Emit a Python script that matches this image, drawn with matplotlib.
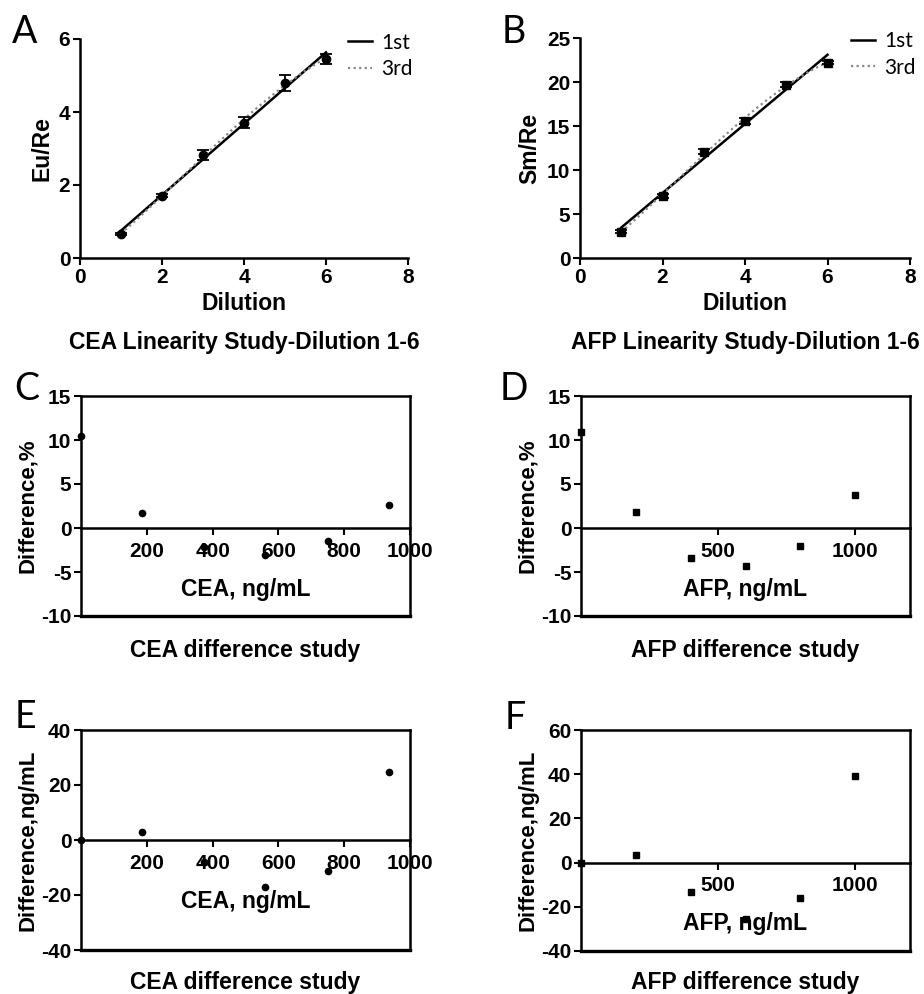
import matplotlib
matplotlib.use('Agg')
import matplotlib.pyplot as plt
import numpy as np

plt.rcParams['font.family'] = ['Liberation Sans', 'DejaVu Sans']

# linearity study, dilution 1-6
dilution = [1, 2, 3, 4, 5, 6]
cea_ratio = [0.66, 1.70, 2.82, 3.71, 4.80, 5.46]
cea_err = [0.03, 0.04, 0.14, 0.16, 0.22, 0.14]
afp_ratio = [3.0, 7.05, 12.1, 15.6, 19.7, 22.2]
afp_err = [0.15, 0.25, 0.25, 0.35, 0.25, 0.2]

# difference studies
conc = [0, 186, 374, 559, 752, 936]
cea_diff_pct = [10.4, 1.65, -2.2, -3.1, -1.5, 2.6]
cea_diff_abs = [0.0, 3.0, -8.1, -17.0, -11.3, 24.8]
afp_conc = [0, 200, 400, 600, 800, 1000]
afp_diff_pct = [10.9, 1.8, -3.4, -4.35, -2.1, 3.8]
afp_diff_abs = [0.0, 3.5, -13.3, -25.5, -16.2, 39.0]

W, H = 924, 994
fig = plt.figure(figsize=(W / 100, H / 100), dpi=100)


def box(l, t, r, b):
    return [l / W, 1 - b / H, (r - l) / W, (b - t) / H]


def style_ticks(ax, pad=2):
    ax.tick_params(direction='out', length=5, width=1.5, labelsize=15, pad=pad)
    for lbl in ax.get_xticklabels() + ax.get_yticklabels():
        lbl.set_fontweight('bold')


def linearity(rect, x, y, err, marker, ylabel, yticks, title, letter, lx):
    ax = fig.add_axes(box(*rect))
    xs = np.linspace(1, 6, 100)
    p1 = np.polyfit(x, y, 1)
    p3 = np.polyfit(x, y, 3)
    ax.plot(xs, np.polyval(p1, xs), color='black', lw=1.8, label='1st')
    ax.plot(xs, np.polyval(p3, xs), color='#888888', lw=1.6, ls=(0, (1, 1.5)), label='3rd')
    ax.errorbar(x, y, yerr=err, fmt=marker, color='black', ms=6, capsize=4,
                elinewidth=1.3, capthick=1.3, clip_on=False, zorder=5)
    ax.set_xlim(0, 8)
    ax.set_ylim(yticks[0], yticks[-1])
    ax.set_xticks([0, 2, 4, 6, 8])
    ax.set_yticks(yticks)
    for s in ['top', 'right']:
        ax.spines[s].set_visible(False)
    for s in ['left', 'bottom']:
        ax.spines[s].set_linewidth(1.8)
    style_ticks(ax)
    ax.set_xlabel('Dilution', fontsize=16.5, fontweight='bold', labelpad=4)
    ax.set_ylabel(ylabel, fontsize=16.5, fontweight='bold', labelpad=4)
    ax.legend(loc='upper left', bbox_to_anchor=lx, frameon=False,
              handlelength=1.15, handletextpad=0.45, labelspacing=0.3,
              prop={'family': 'Lato', 'size': 15})
    cx = (rect[0] + rect[2]) / 2
    fig.text(cx / W, 1 - 343 / H, title, ha='center', va='center',
             fontsize=16.5, fontweight='bold')
    fig.text(letter[1] / W, 1 - letter[2] / H, letter[0], ha='center', va='center',
             fontsize=27, family='Lato')
    return ax


def difference(rect, x, y, marker, ms, xlim, xticks, yticks, xlabel, ylabel,
               title, ty, letter):
    ax = fig.add_axes(box(*rect))
    ax.plot(x, y, marker, color='black', ms=ms, ls='none', clip_on=False, zorder=5)
    ax.set_xlim(*xlim)
    ax.set_ylim(yticks[0], yticks[-1])
    ax.set_xticks(xticks)
    ax.set_yticks(yticks)
    ax.set_yticklabels([str(v) for v in yticks])
    ax.spines['bottom'].set_position(('data', 0))
    for s in ax.spines.values():
        s.set_linewidth(1.8)
    ax.axhline(yticks[0], color='black', lw=2.4, clip_on=False)
    style_ticks(ax)
    ax.tick_params(axis='x', pad=5)
    ax.set_xlabel(xlabel, fontsize=16.5, fontweight='bold', labelpad=12)
    ax.set_ylabel(ylabel, fontsize=16, fontweight='bold', labelpad=2)
    cx = (rect[0] + rect[2]) / 2
    fig.text(cx / W, 1 - ty / H, title, ha='center', va='center',
             fontsize=16.5, fontweight='bold')
    fig.text(letter[1] / W, 1 - letter[2] / H, letter[0], ha='center', va='center',
             fontsize=27, family='Lato')
    return ax


linearity((80, 39, 408, 258), dilution, cea_ratio, cea_err, 'o', 'Eu/Re',
          [0, 2, 4, 6], 'CEA Linearity Study-Dilution 1-6', ('A', 25, 32), (0.76, 1.115))
linearity((580, 38, 910, 258), dilution, afp_ratio, afp_err, 's', 'Sm/Re',
          [0, 5, 10, 15, 20, 25], 'AFP Linearity Study-Dilution 1-6', ('B', 514, 32), (0.765, 1.115))

difference((81, 396, 410, 616), conc, cea_diff_pct, 'o', 4.5, (0, 1000),
           [200, 400, 600, 800, 1000], [-10, -5, 0, 5, 10, 15],
           'CEA, ng/mL', 'Difference,%', 'CEA difference study', 651, ('C', 27, 389))
difference((581, 396, 910, 616), afp_conc, afp_diff_pct, 's', 5, (0, 1200),
           [500, 1000], [-10, -5, 0, 5, 10, 15],
           'AFP, ng/mL', 'Difference,%', 'AFP difference study', 651, ('D', 514, 389))
difference((81, 730, 410, 950), conc, cea_diff_abs, 'o', 4.5, (0, 1000),
           [200, 400, 600, 800, 1000], [-40, -20, 0, 20, 40],
           'CEA, ng/mL', 'Difference,ng/mL', 'CEA difference study', 983, ('E', 25, 717))
difference((581, 730, 910, 951), afp_conc, afp_diff_abs, 's', 5, (0, 1200),
           [500, 1000], [-40, -20, 0, 20, 40, 60],
           'AFP, ng/mL', 'Difference,ng/mL', 'AFP difference study', 983, ('F', 515, 718))

plt.savefig('out.png', dpi=100)
